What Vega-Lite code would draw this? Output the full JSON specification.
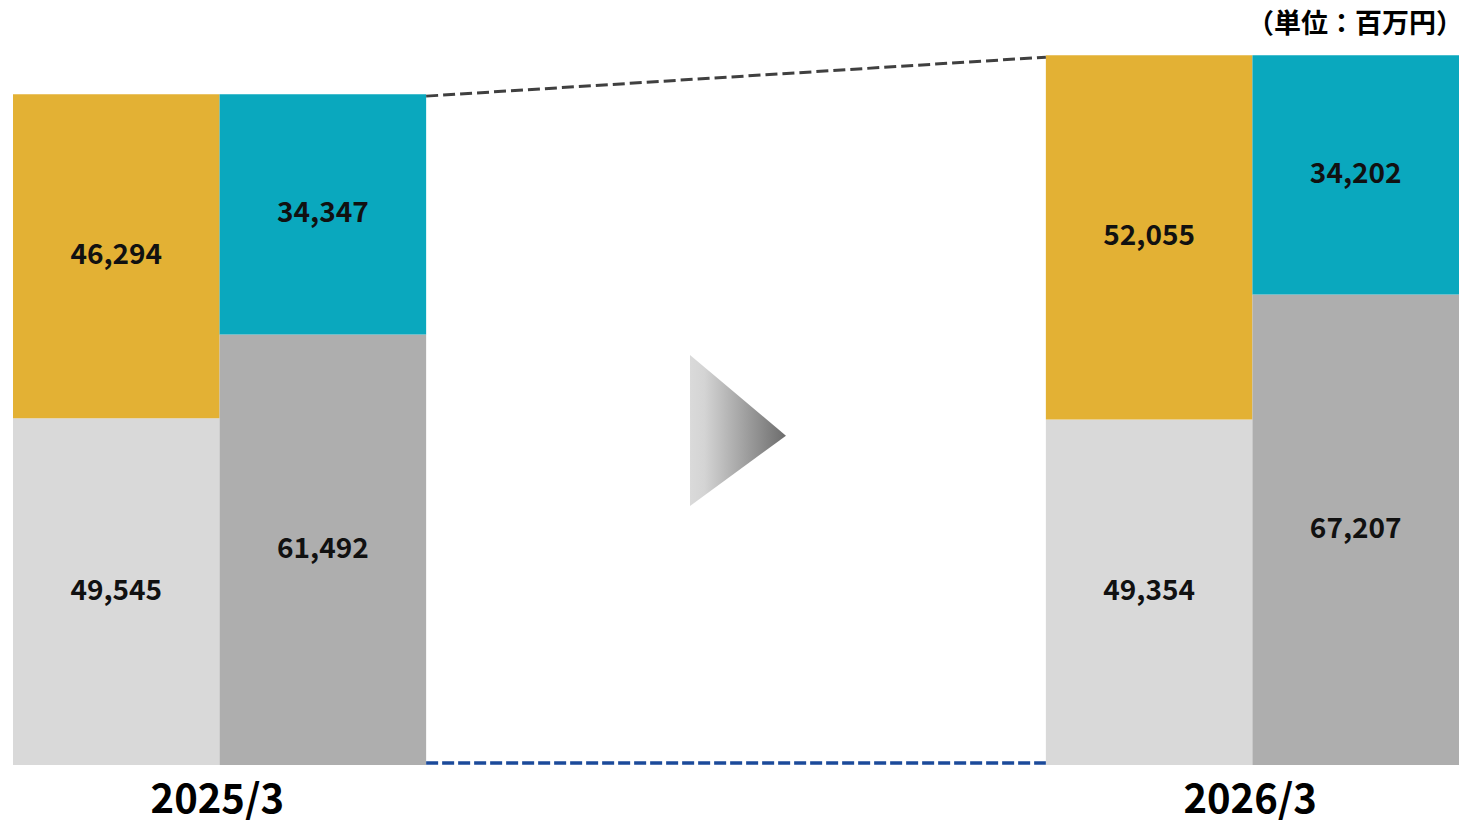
{
  "$schema": "https://vega.github.io/schema/vega-lite/v6.json",
  "width": 1446,
  "height": 728,
  "padding": {"left": 13, "top": 11, "right": 4, "bottom": 0},
  "autosize": {"type": "pad"},
  "background": "white",
  "config": {
    "view": {"stroke": null},
    "font": "Noto Sans CJK JP",
    "axis": {"domain": false, "ticks": false, "grid": false}
  },
  "title": {
    "text": "（単位：百万円）",
    "anchor": "end",
    "fontSize": 27,
    "fontWeight": "bold",
    "color": "#000000",
    "font": "Noto Sans CJK JP",
    "offset": -2,
    "dx": 4
  },
  "datasets": {
    "bars": [
      {"col": "A25", "segment": "資産下段", "rank": 1, "value": 49545, "label": "49,545"},
      {"col": "A25", "segment": "資産上段", "rank": 2, "value": 46294, "label": "46,294"},
      {"col": "L25", "segment": "負債純資産下段", "rank": 1, "value": 61492, "label": "61,492"},
      {"col": "L25", "segment": "負債純資産上段", "rank": 2, "value": 34347, "label": "34,347"},
      {"col": "A26", "segment": "資産下段", "rank": 1, "value": 49354, "label": "49,354"},
      {"col": "A26", "segment": "資産上段", "rank": 2, "value": 52055, "label": "52,055"},
      {"col": "L26", "segment": "負債純資産下段", "rank": 1, "value": 67207, "label": "67,207"},
      {"col": "L26", "segment": "負債純資産上段", "rank": 2, "value": 34202, "label": "34,202"}
    ],
    "totals": [
      {"col": "g1", "total": 95839},
      {"col": "A26", "total": 101409}
    ],
    "base": [
      {"col": "g1", "total": 0},
      {"col": "A26", "total": 0}
    ]
  },
  "layer": [
    {
      "data": {"name": "bars"},
      "transform": [
        {"stack": "value", "groupby": ["col"], "sort": [{"field": "rank"}], "as": ["y0", "y1"]}
      ],
      "mark": {"type": "bar", "cornerRadius": 0},
      "encoding": {
        "x": {
          "field": "col",
          "type": "nominal",
          "scale": {"type": "band", "domain": ["A25", "L25", "g1", "g2", "g3", "A26", "L26"], "paddingInner": 0, "paddingOuter": 0},
          "axis": {
            "title": null,
            "labelExpr": "datum.value == 'A25' ? '2025/3' : (datum.value == 'A26' ? '2026/3' : '')",
            "labelOffset": 101,
            "labelAngle": 0,
            "labelFontSize": 40,
            "labelFontWeight": "bold",
            "labelColor": "#000000",
            "labelPadding": 15,
            "labelOverlap": false,
            "labelBound": false,
            "labelFlush": false
          }
        },
        "y": {"field": "y0", "type": "quantitative", "scale": {"domain": [0, 104000], "nice": false}, "axis": null},
        "y2": {"field": "y1"},
        "color": {
          "field": "segment",
          "type": "nominal",
          "scale": {"domain": ["資産下段", "資産上段", "負債純資産下段", "負債純資産上段"], "range": ["#D9D9D9", "#E3B134", "#AEAEAE", "#0AA8BE"]},
          "legend": null
        }
      }
    },
    {
      "data": {"name": "bars"},
      "transform": [
        {"stack": "value", "groupby": ["col"], "sort": [{"field": "rank"}], "as": ["y0", "y1"]},
        {"calculate": "(datum.y0 + datum.y1) / 2", "as": "mid"}
      ],
      "mark": {"type": "text", "fontSize": 28, "fontWeight": "bold", "color": "#111111", "align": "center", "baseline": "middle"},
      "encoding": {
        "x": {"field": "col", "type": "nominal"},
        "y": {"field": "mid", "type": "quantitative"},
        "text": {"field": "label"}
      }
    },
    {
      "data": {"name": "totals"},
      "mark": {"type": "line", "strokeDash": [12, 5], "strokeWidth": 3, "color": "#404040", "yOffset": 2},
      "encoding": {
        "x": {"field": "col", "type": "nominal", "bandPosition": 0},
        "y": {"field": "total", "type": "quantitative"}
      }
    },
    {
      "data": {"name": "base"},
      "mark": {"type": "line", "strokeDash": [12, 4], "strokeWidth": 3.5, "color": "#1B4A9A", "yOffset": -2},
      "encoding": {
        "x": {"field": "col", "type": "nominal", "bandPosition": 0},
        "y": {"field": "total", "type": "quantitative"}
      }
    },
    {
      "data": {"values": [{"marker": "arrow"}]},
      "mark": {
        "type": "point",
        "shape": "M-0.609,-1L0.662,0.07L-0.609,1Z",
        "size": 22801,
        "filled": true,
        "opacity": 1,
        "strokeWidth": 0,
        "fill": {
          "gradient": "linear",
          "x1": 0, "y1": 0, "x2": 1, "y2": 0,
          "stops": [
            {"offset": 0, "color": "#DADADA"},
            {"offset": 0.15, "color": "#D4D4D4"},
            {"offset": 1, "color": "#6C6C6C"}
          ]
        }
      },
      "encoding": {
        "x": {"datum": "g2"},
        "y": {"datum": 47786}
      }
    }
  ]
}
